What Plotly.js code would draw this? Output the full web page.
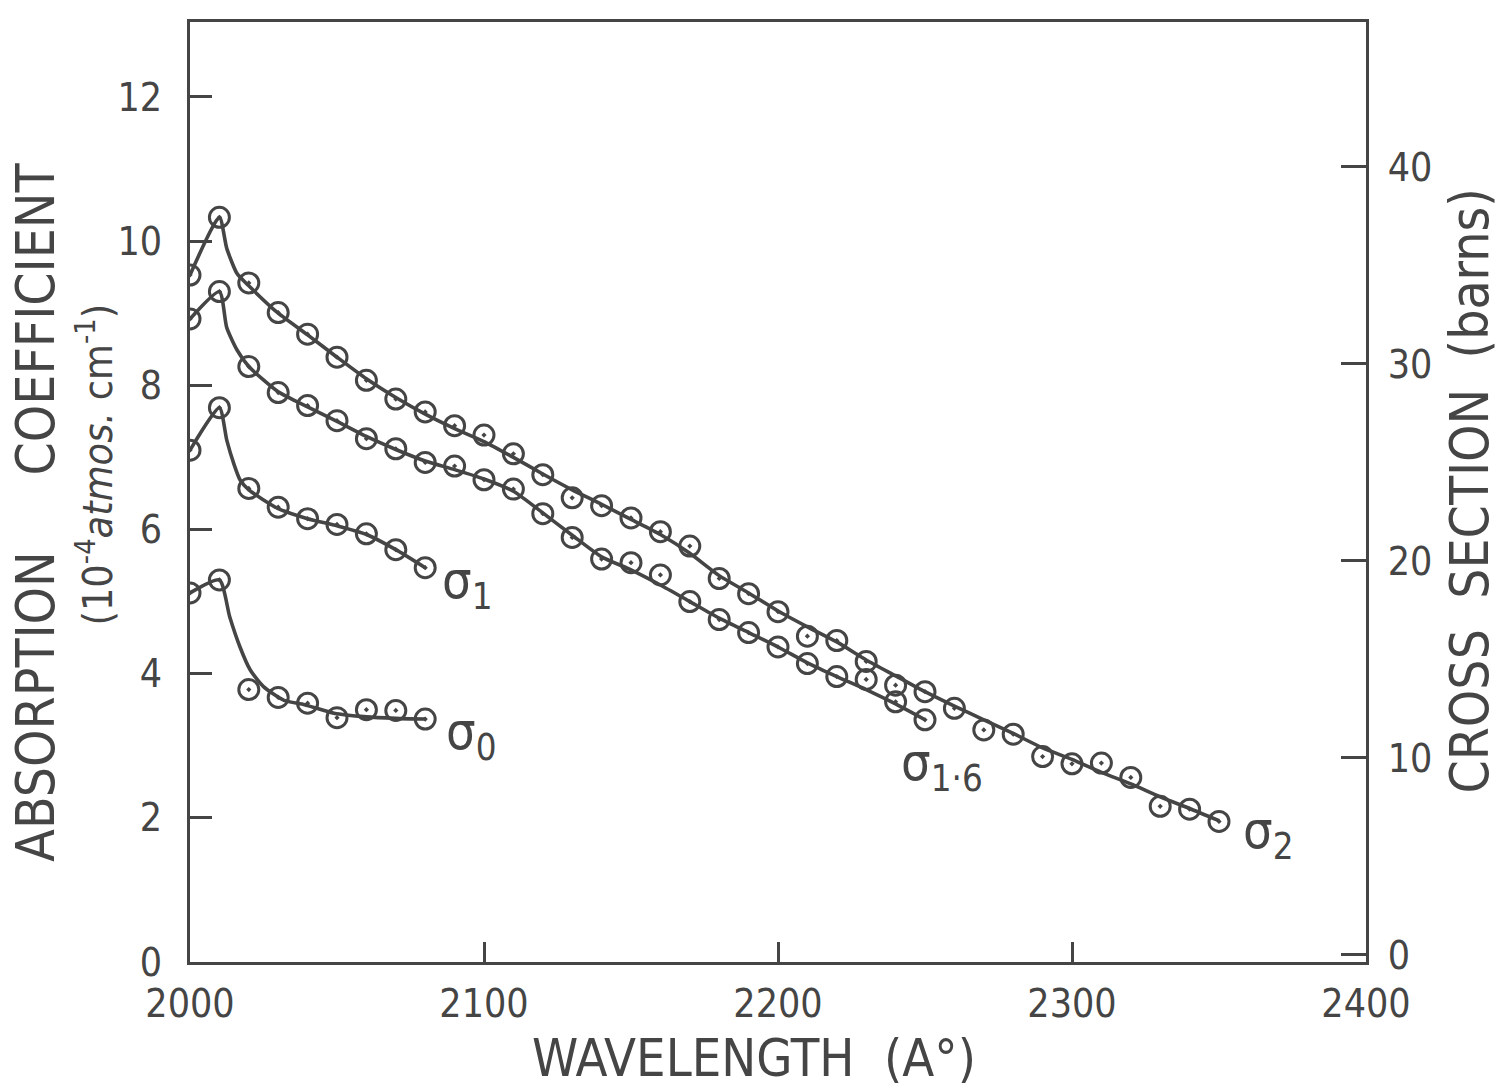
<!DOCTYPE html>
<html>
<head>
<meta charset="utf-8">
<script src="https://cdn.plot.ly/plotly-3.0.1.min.js"></script>
<style>html,body{margin:0;padding:0;background:#fff;}#chart{width:1499px;height:1090px;}</style>
</head>
<body>
<div id="chart"></div>
<script>
// ---- data ----
const wavelength2 = [2000,2010,2020,2030,2040,2050,2060,2070,2080,2090,2100,2110,2120,2130,2140,2150,2160,2170,2180,2190,2200,2210,2220,2230,2240,2250,2260,2270,2280,2290,2300,2310,2320,2330,2340,2350];
const sigma2 = [9.53,10.33,9.42,9.01,8.71,8.39,8.07,7.81,7.63,7.44,7.31,7.05,6.76,6.44,6.33,6.16,5.97,5.77,5.32,5.11,4.86,4.52,4.46,4.17,3.84,3.75,3.52,3.22,3.16,2.85,2.75,2.76,2.56,2.16,2.12,1.95];
const wavelength16 = [2000,2010,2020,2030,2040,2050,2060,2070,2080,2090,2100,2110,2120,2130,2140,2150,2160,2170,2180,2190,2200,2210,2220,2230,2240,2250];
const sigma16 = [8.92,9.30,8.26,7.90,7.72,7.51,7.26,7.12,6.93,6.88,6.69,6.56,6.22,5.89,5.59,5.54,5.37,5.00,4.75,4.57,4.37,4.14,3.96,3.92,3.61,3.36];
const wavelength1 = [2000,2010,2020,2030,2040,2050,2060,2070,2080];
const sigma1 = [7.10,7.69,6.57,6.31,6.15,6.07,5.94,5.72,5.47];
const wavelength0 = [2000,2010,2020,2030,2040,2050,2060,2070,2080];
const sigma0 = [5.12,5.30,3.78,3.67,3.59,3.39,3.50,3.49,3.37];

// hand-drawn fitted curves
const curve2X = [2000,2010,2012.5,2016,2020,2030,2040,2050,2060,2070,2080,2090,2100,2110,2120,2130,2140,2150,2160,2170,2180,2190,2200,2210,2220,2230,2240,2250,2260,2270,2280,2290,2300,2310,2320,2330,2340,2350];
const curve2Y = [9.53,10.33,9.90,9.55,9.38,9.00,8.70,8.39,8.09,7.83,7.60,7.40,7.22,7.00,6.77,6.55,6.35,6.14,5.93,5.67,5.36,5.12,4.87,4.65,4.44,4.19,3.97,3.75,3.55,3.36,3.17,2.97,2.81,2.63,2.47,2.29,2.13,1.96];
const curve16X = [2000,2010,2012.5,2016,2020,2030,2040,2050,2060,2070,2080,2090,2100,2110,2120,2130,2140,2150,2160,2170,2180,2190,2200,2210,2220,2230,2240,2250];
const curve16Y = [8.92,9.30,8.80,8.49,8.26,7.91,7.70,7.50,7.29,7.11,6.95,6.83,6.70,6.53,6.23,5.92,5.62,5.44,5.23,5.00,4.77,4.57,4.37,4.15,3.96,3.78,3.58,3.36];
const curve1X = [2000,2010,2012.5,2015,2017,2020,2030,2040,2050,2060,2070,2080];
const curve1Y = [7.10,7.69,7.24,6.90,6.69,6.55,6.29,6.15,6.05,5.93,5.72,5.47];
const curve0X = [2000,2010,2013.5,2017,2020.5,2025,2032,2039,2049,2060,2070,2080];
const curve0Y = [5.12,5.30,4.79,4.37,4.05,3.82,3.63,3.57,3.45,3.40,3.38,3.37];

const xTicks = [2000,2100,2200,2300,2400];
const yTicks = [0,2,4,6,8,10,12];
const y2Ticks = [0,10,20,30,40];

const seriesLabels = [
  {text:'σ<sub>1</sub>', x:2085, y:5.25},
  {text:'σ<sub>0</sub>', x:2086.5, y:3.15},
  {text:'σ<sub>1·6</sub>', x:2241, y:2.72},
  {text:'σ<sub>2</sub>', x:2357.5, y:1.78}
];

// ---- styling ----
const INK = '#454545';
const FONT = '"DejaVu Sans Condensed", "DejaVu Sans", sans-serif';

function markers(x, y) {
  return {x:x, y:y, type:'scatter', mode:'markers', showlegend:false, hoverinfo:'skip',
    marker:{symbol:'circle-open-dot', size:20, color:INK, line:{width:3, color:INK}}};
}
function curve(x, y) {
  return {x:x, y:y, type:'scatter', mode:'lines', showlegend:false, hoverinfo:'skip',
    line:{color:INK, width:3.6, shape:'spline', smoothing:0.6}};
}

const traces = [
  curve(curve2X, curve2Y), markers(wavelength2, sigma2),
  curve(curve16X, curve16Y), markers(wavelength16, sigma16),
  curve(curve1X, curve1Y), markers(wavelength1, sigma1),
  curve(curve0X, curve0Y), markers(wavelength0, sigma0),
  {x:[], y:[], type:'scatter', mode:'markers', yaxis:'y2', showlegend:false, hoverinfo:'skip'}
];

const annotations = seriesLabels.map(s => ({
  text:s.text, x:s.x, y:s.y, xref:'x', yref:'y', xanchor:'left', yanchor:'middle',
  showarrow:false, font:{family:FONT, size:52, color:INK}
}));
annotations.push(
  {text:'ABSORPTION\u00a0\u00a0\u00a0\u00a0\u00a0COEFFICIENT', xref:'paper', yref:'paper', x:-0.131, y:0.479,
   xanchor:'center', yanchor:'middle', textangle:-90, showarrow:false, font:{family:FONT, size:53, color:INK}},
  {text:'(10<sup>-4</sup><i>atmos.</i> cm<sup>-1</sup>)', xref:'paper', yref:'paper', x:-0.081, y:0.529,
   xanchor:'center', yanchor:'middle', textangle:-90, showarrow:false, font:{family:FONT, size:41, color:INK}},
  {text:'CROSS\u00a0\u00a0SECTION\u00a0\u00a0(barns)', xref:'paper', yref:'paper', x:1.088, y:0.502,
   xanchor:'center', yanchor:'middle', textangle:-90, showarrow:false, font:{family:FONT, size:53, color:INK}},
  {text:'WAVELENGTH\u00a0\u00a0(A°)', xref:'paper', yref:'paper', x:0.48, y:-0.102,
   xanchor:'center', yanchor:'middle', showarrow:false, font:{family:FONT, size:52, color:INK}}
);

const layout = {
  width:1499, height:1090,
  margin:{l:190, r:133, t:22, b:128},
  paper_bgcolor:'#fff', plot_bgcolor:'#fff',
  font:{family:FONT, color:INK},
  showlegend:false,
  xaxis:{range:[2000,2400], tickvals:xTicks, ticktext:xTicks.map(String), ticks:'inside', ticklen:20, tickwidth:3, tickcolor:INK,
    showline:true, linecolor:INK, linewidth:3, mirror:true, showgrid:false, zeroline:false,
    tickfont:{family:FONT, size:39, color:INK}, ticklabelstandoff:5},
  yaxis:{range:[0,13.04], tickvals:yTicks, ticktext:yTicks.map(String), ticks:'inside', ticklen:22, tickwidth:3, tickcolor:INK,
    showline:true, linecolor:INK, linewidth:3, showgrid:false, zeroline:false,
    tickfont:{family:FONT, size:39, color:INK}, ticklabelstandoff:17},
  yaxis2:{overlaying:'y', side:'right', range:[-0.36,47.36], tickvals:y2Ticks, ticktext:y2Ticks.map(String), ticks:'inside', ticklen:25, tickwidth:3, tickcolor:INK,
    showline:true, linecolor:INK, linewidth:3, showgrid:false, zeroline:false,
    tickfont:{family:FONT, size:39, color:INK}, ticklabelstandoff:11},
  annotations:annotations
};

Plotly.newPlot('chart', traces, layout, {staticPlot:true, displayModeBar:false});
</script>
</body>
</html>
